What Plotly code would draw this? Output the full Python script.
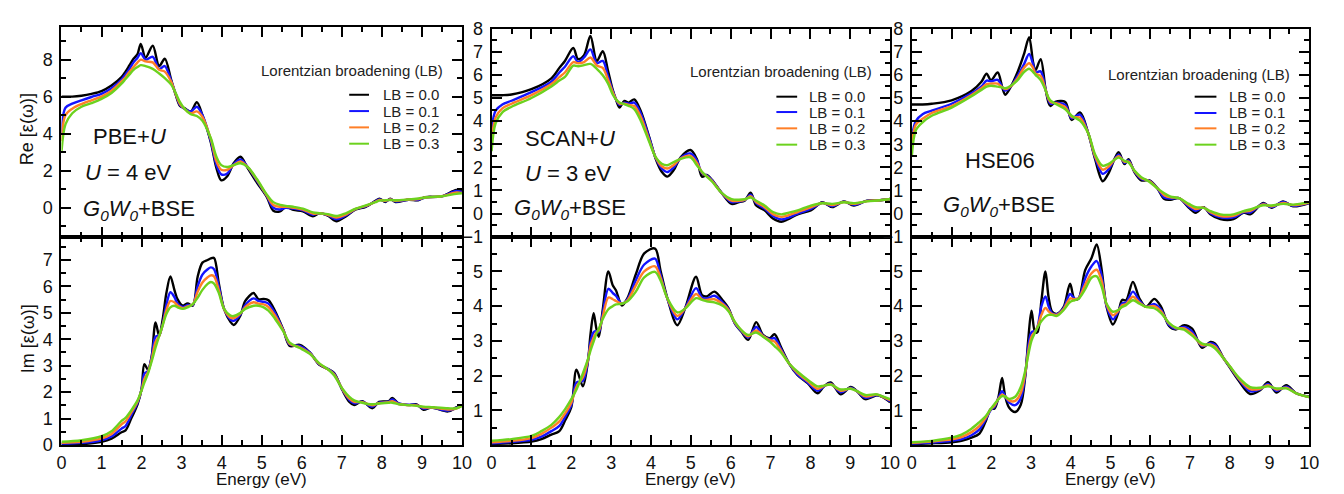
import plotly.graph_objects as go

W, H = 1344, 494

# ---------------- data ----------------
broadening = ["LB = 0.0", "LB = 0.1", "LB = 0.2", "LB = 0.3"]
line_colors = ["#000000", "#1414ff", "#ff7f27", "#6cd21e"]

# Re[eps] PBE+U
E_re_pbe = [0, 0.1, 0.27, 0.5, 0.75, 1.0, 1.25, 1.5, 1.6, 1.7, 1.8, 1.9, 1.98, 2.1, 2.28, 2.44, 2.58, 2.74, 2.86, 2.96,
            3.07, 3.23, 3.38, 3.52, 3.73, 3.87, 3.99, 4.14, 4.3, 4.47, 4.65, 4.88, 5.13, 5.29, 5.46, 5.6, 5.79, 6.03,
            6.28, 6.44, 6.65, 6.86, 7.1, 7.35, 7.6, 7.84, 7.94, 8.09, 8.21, 8.34, 8.67, 8.91, 9.08, 9.49, 9.86, 10]
re_pbe_00 = [6.0, 6.0, 6.0, 6.05, 6.15, 6.3, 6.6, 7.05, 7.35, 7.7, 8.05, 8.3, 8.85, 8.1, 8.75, 7.65, 8.05, 6.9, 6.05, 5.5,
             5.38, 5.2, 5.7, 5.0, 3.53, 2.14, 1.48, 1.7, 2.4, 2.75, 2.14, 1.36, 0.57, -0.16, -0.2, 0.05, -0.12, -0.2,
             -0.47, -0.3, -0.43, -0.73, -0.47, -0.09, 0.05, 0.37, 0.49, 0.31, 0.49, 0.31, 0.43, 0.4, 0.57, 0.61, 0.96, 0.89]
re_pbe_01 = [4.0, 5.4, 5.62, 5.8, 5.98, 6.15, 6.45, 6.92, 7.2, 7.5, 7.85, 8.1, 8.35, 8.0, 8.15, 7.5, 7.65, 6.85, 6.1, 5.55,
             5.35, 5.2, 5.45, 5.0, 3.6, 2.3, 1.8, 1.85, 2.35, 2.6, 2.2, 1.45, 0.62, 0.0, -0.1, 0.0, -0.05, -0.15,
             -0.38, -0.3, -0.4, -0.62, -0.42, -0.07, 0.07, 0.35, 0.45, 0.35, 0.46, 0.34, 0.43, 0.42, 0.55, 0.61, 0.9, 0.85]
re_pbe_02 = [3.6, 5.0, 5.35, 5.6, 5.8, 6.0, 6.32, 6.82, 7.05, 7.35, 7.6, 7.85, 8.0, 7.9, 7.85, 7.45, 7.35, 6.8, 6.1, 5.6,
             5.35, 5.1, 5.2, 4.9, 3.7, 2.5, 2.05, 2.05, 2.3, 2.5, 2.2, 1.5, 0.65, 0.15, 0.05, 0.05, 0.0, -0.1,
             -0.32, -0.3, -0.38, -0.53, -0.37, -0.06, 0.1, 0.32, 0.42, 0.37, 0.44, 0.37, 0.44, 0.46, 0.55, 0.62, 0.82, 0.8]
re_pbe_03 = [3.0, 4.5, 5.1, 5.45, 5.65, 5.88, 6.2, 6.7, 6.95, 7.2, 7.45, 7.6, 7.7, 7.65, 7.5, 7.25, 7.0, 6.65, 6.15, 5.7,
             5.35, 5.05, 4.95, 4.7, 3.75, 2.75, 2.3, 2.2, 2.3, 2.4, 2.2, 1.55, 0.7, 0.3, 0.15, 0.1, 0.05, -0.05,
             -0.25, -0.3, -0.35, -0.45, -0.3, -0.05, 0.12, 0.3, 0.38, 0.4, 0.42, 0.4, 0.45, 0.5, 0.55, 0.62, 0.75, 0.78]

# Re[eps] SCAN+U
E_re_scan = [0, 0.1, 0.27, 0.5, 1.0, 1.5, 1.7, 1.84, 2.05, 2.17, 2.32, 2.48, 2.64, 2.79, 2.92, 3.04, 3.12, 3.21, 3.33,
             3.44, 3.58, 3.74, 3.95, 4.12, 4.27, 4.41, 4.57, 4.74, 4.99, 5.15, 5.28, 5.4, 5.53, 5.77, 6.02, 6.19, 6.35,
             6.5, 6.64, 6.85, 7.06, 7.27, 7.43, 7.68, 8.01, 8.3, 8.55, 8.84, 9.09, 9.42, 9.75, 10]
re_scan_00 = [5.12, 5.12, 5.12, 5.15, 5.38, 5.85, 6.3, 6.6, 7.16, 6.68, 6.85, 7.68, 6.6, 7.02, 6.19, 5.35, 4.94, 4.59,
              4.87, 4.8, 4.94, 4.45, 3.34, 2.36, 1.81, 1.6, 1.88, 2.43, 2.75, 2.36, 1.6, 1.67, 1.46, 0.9, 0.42, 0.49,
              0.56, 0.9, 0.35, 0.14, -0.21, -0.35, -0.25, -0.03, 0.14, 0.49, 0.28, 0.53, 0.35, 0.56, 0.58, 0.63]
re_scan_01 = [3.6, 4.45, 4.72, 4.88, 5.25, 5.7, 6.1, 6.35, 6.8, 6.55, 6.75, 7.1, 6.5, 6.6, 5.95, 5.3, 4.95, 4.7, 4.8,
              4.75, 4.8, 4.35, 3.3, 2.4, 1.95, 1.8, 2.0, 2.4, 2.6, 2.3, 1.75, 1.65, 1.45, 0.9, 0.5, 0.52, 0.58, 0.82,
              0.45, 0.22, -0.1, -0.25, -0.18, 0.0, 0.2, 0.47, 0.32, 0.52, 0.38, 0.55, 0.58, 0.63]
re_scan_02 = [3.1, 4.15, 4.55, 4.75, 5.12, 5.6, 5.9, 6.1, 6.55, 6.5, 6.55, 6.75, 6.4, 6.3, 5.8, 5.25, 4.95, 4.75, 4.75,
              4.7, 4.65, 4.2, 3.2, 2.42, 2.05, 1.95, 2.1, 2.38, 2.5, 2.2, 1.78, 1.62, 1.42, 0.9, 0.56, 0.55, 0.6, 0.75,
              0.5, 0.28, -0.02, -0.14, -0.08, 0.07, 0.27, 0.46, 0.37, 0.5, 0.42, 0.54, 0.58, 0.63]
re_scan_03 = [2.7, 3.9, 4.38, 4.62, 5.0, 5.5, 5.75, 5.91, 6.4, 6.37, 6.42, 6.47, 6.26, 5.98, 5.63, 5.15, 4.94, 4.8, 4.73,
              4.66, 4.52, 4.03, 3.13, 2.43, 2.16, 2.09, 2.23, 2.36, 2.43, 2.09, 1.81, 1.6, 1.39, 0.9, 0.63, 0.6, 0.62,
              0.7, 0.56, 0.35, 0.07, -0.03, 0.03, 0.14, 0.35, 0.45, 0.42, 0.49, 0.45, 0.53, 0.58, 0.63]

# Re[eps] HSE06
E_re_hse = [0, 0.1, 0.27, 0.5, 1.0, 1.5, 1.75, 1.88, 1.99, 2.16, 2.28, 2.35, 2.49, 2.66, 2.82, 2.95, 3.05, 3.11, 3.24,
            3.36, 3.44, 3.49, 3.61, 3.86, 4.02, 4.23, 4.44, 4.61, 4.8, 4.94, 5.2, 5.35, 5.45, 5.6, 5.77, 5.98, 6.18,
            6.35, 6.51, 6.72, 6.97, 7.14, 7.34, 7.51, 7.76, 8.09, 8.34, 8.51, 8.84, 9.05, 9.34, 9.59, 10]
re_hse_00 = [4.72, 4.72, 4.72, 4.75, 4.9, 5.3, 5.7, 6.05, 5.77, 6.1, 5.42, 5.14, 5.49, 6.12, 6.89, 7.63, 6.54, 6.19, 6.68,
             5.42, 4.79, 4.65, 4.83, 4.83, 4.05, 4.37, 3.46, 2.35, 1.4, 1.72, 2.65, 2.14, 2.35, 1.79, 1.44, 1.44, 1.09,
             0.63, 0.6, 0.67, 0.25, 0.04, 0.28, -0.03, -0.24, -0.24, 0.04, -0.03, 0.46, 0.25, 0.53, 0.32, 0.46]
re_hse_01 = [3.3, 4.0, 4.3, 4.45, 4.75, 5.2, 5.5, 5.75, 5.72, 5.78, 5.45, 5.32, 5.5, 5.95, 6.45, 6.9, 6.45, 6.1, 6.15,
             5.4, 4.9, 4.75, 4.8, 4.7, 4.12, 4.28, 3.46, 2.42, 1.72, 1.9, 2.55, 2.2, 2.3, 1.82, 1.5, 1.42, 1.09, 0.7,
             0.65, 0.67, 0.3, 0.12, 0.27, 0.02, -0.16, -0.16, 0.06, 0.05, 0.43, 0.28, 0.5, 0.34, 0.47]
re_hse_02 = [2.9, 3.85, 4.1, 4.35, 4.65, 5.13, 5.42, 5.6, 5.62, 5.62, 5.45, 5.38, 5.5, 5.85, 6.3, 6.5, 6.3, 6.05, 5.95,
             5.38, 4.95, 4.82, 4.78, 4.6, 4.18, 4.15, 3.46, 2.48, 1.9, 2.02, 2.48, 2.24, 2.25, 1.84, 1.54, 1.4, 1.09,
             0.8, 0.7, 0.67, 0.36, 0.2, 0.26, 0.06, -0.1, -0.1, 0.09, 0.12, 0.4, 0.32, 0.46, 0.37, 0.48]
re_hse_03 = [2.49, 3.6, 3.95, 4.23, 4.58, 5.07, 5.35, 5.49, 5.53, 5.49, 5.45, 5.42, 5.53, 5.77, 6.12, 6.26, 6.12, 6.0,
             5.77, 5.35, 5.0, 4.89, 4.75, 4.51, 4.23, 4.02, 3.46, 2.56, 2.07, 2.14, 2.42, 2.28, 2.21, 1.86, 1.58, 1.37,
             1.09, 0.88, 0.74, 0.67, 0.42, 0.28, 0.25, 0.11, -0.03, -0.03, 0.11, 0.18, 0.36, 0.35, 0.42, 0.39, 0.5]

# Im[eps] PBE+U
E_im_pbe = [0, 0.5, 1.0, 1.25, 1.5, 1.6, 1.75, 1.9, 2.0, 2.07, 2.16, 2.25, 2.35, 2.44, 2.53, 2.62, 2.72, 2.82, 2.9, 3.03,
            3.15, 3.28, 3.4, 3.52, 3.65, 3.73, 3.81, 3.93, 4.06, 4.22, 4.3, 4.47, 4.59, 4.8, 4.92, 5.05, 5.17, 5.33,
            5.54, 5.7, 5.95, 6.2, 6.44, 6.69, 6.81, 7.02, 7.19, 7.31, 7.51, 7.76, 7.93, 8.17, 8.26, 8.42, 8.67, 8.87,
            9.04, 9.24, 9.65, 9.86, 10]
im_pbe_00 = [0.02, 0.03, 0.12, 0.24, 0.48, 0.55, 1.03, 1.54, 2.12, 3.06, 2.85, 3.33, 4.64, 4.12, 4.78, 5.75, 6.38, 5.87,
             5.51, 5.27, 5.36, 5.27, 6.36, 6.9, 7.0, 7.06, 7.08, 6.11, 5.15, 4.66, 4.54, 4.9, 5.45, 5.75, 5.51, 5.53,
             5.48, 5.08, 4.36, 3.75, 3.79, 3.51, 3.03, 2.85, 2.72, 2.06, 1.63, 1.51, 1.66, 1.39, 1.63, 1.66, 1.78, 1.57,
             1.51, 1.54, 1.33, 1.42, 1.27, 1.42, 1.51]
im_pbe_01 = [0.05, 0.08, 0.18, 0.32, 0.62, 0.72, 1.15, 1.6, 2.1, 2.7, 2.8, 3.3, 4.1, 4.15, 4.6, 5.3, 5.78, 5.6, 5.35,
             5.22, 5.3, 5.3, 6.0, 6.45, 6.65, 6.72, 6.65, 6.0, 5.15, 4.75, 4.7, 4.95, 5.3, 5.55, 5.45, 5.42, 5.35, 5.0,
             4.35, 3.8, 3.75, 3.5, 3.05, 2.85, 2.7, 2.08, 1.7, 1.58, 1.64, 1.45, 1.6, 1.64, 1.72, 1.57, 1.52, 1.52,
             1.38, 1.42, 1.3, 1.4, 1.5]
im_pbe_02 = [0.08, 0.12, 0.25, 0.42, 0.78, 0.9, 1.25, 1.65, 2.08, 2.5, 2.75, 3.22, 3.9, 4.12, 4.55, 5.1, 5.45, 5.4, 5.28,
             5.18, 5.25, 5.32, 5.8, 6.15, 6.35, 6.42, 6.38, 5.85, 5.15, 4.82, 4.8, 4.98, 5.22, 5.4, 5.35, 5.32, 5.22,
             4.9, 4.33, 3.83, 3.7, 3.47, 3.07, 2.83, 2.67, 2.1, 1.75, 1.63, 1.62, 1.5, 1.58, 1.62, 1.66, 1.55, 1.51,
             1.5, 1.42, 1.42, 1.34, 1.38, 1.49]
im_pbe_03 = [0.12, 0.18, 0.33, 0.52, 0.91, 1.03, 1.33, 1.69, 2.06, 2.36, 2.7, 3.15, 3.69, 4.12, 4.54, 4.96, 5.21, 5.27,
             5.21, 5.15, 5.21, 5.33, 5.57, 5.87, 6.1, 6.17, 6.11, 5.75, 5.15, 4.9, 4.88, 5.0, 5.15, 5.27, 5.27, 5.21,
             5.08, 4.78, 4.3, 3.87, 3.67, 3.45, 3.09, 2.82, 2.63, 2.12, 1.82, 1.69, 1.6, 1.54, 1.57, 1.6, 1.6, 1.54,
             1.51, 1.48, 1.45, 1.43, 1.39, 1.39, 1.48]

# Im[eps] SCAN+U
E_im_scan = [0, 0.5, 1.0, 1.25, 1.5, 1.7, 1.85, 2.0, 2.13, 2.29, 2.42, 2.48, 2.56, 2.63, 2.69, 2.79, 2.93, 3.04, 3.12,
             3.27, 3.41, 3.62, 3.83, 4.1, 4.24, 4.41, 4.66, 4.86, 5.13, 5.28, 5.4, 5.59, 5.82, 5.94, 6.11, 6.27, 6.44,
             6.64, 6.81, 6.98, 7.1, 7.27, 7.47, 7.68, 7.93, 8.18, 8.34, 8.51, 8.76, 9.01, 9.17, 9.38, 9.67, 9.83, 10]
im_scan_00 = [0.03, 0.05, 0.1, 0.17, 0.3, 0.4, 0.72, 1.09, 2.17, 1.69, 2.43, 3.17, 3.8, 3.35, 3.12, 3.91, 5.0, 4.6, 4.46,
              4.02, 4.23, 4.92, 5.52, 5.66, 5.02, 4.23, 3.45, 3.95, 4.85, 4.32, 4.28, 4.42, 4.14, 3.95, 3.49, 3.26, 3.03,
              3.54, 3.17, 3.08, 3.19, 2.8, 2.34, 2.01, 1.78, 1.49, 1.69, 1.8, 1.46, 1.67, 1.55, 1.32, 1.43, 1.37, 1.23]
im_scan_01 = [0.05, 0.09, 0.15, 0.24, 0.4, 0.55, 0.82, 1.15, 1.8, 1.85, 2.45, 2.95, 3.25, 3.28, 3.25, 3.8, 4.5, 4.38,
              4.3, 4.07, 4.2, 4.75, 5.2, 5.37, 4.9, 4.22, 3.62, 3.95, 4.52, 4.25, 4.22, 4.3, 4.08, 3.92, 3.5, 3.28, 3.1,
              3.4, 3.15, 3.05, 3.08, 2.75, 2.34, 2.03, 1.8, 1.56, 1.69, 1.77, 1.52, 1.65, 1.55, 1.36, 1.44, 1.38, 1.26]
im_scan_02 = [0.08, 0.12, 0.2, 0.32, 0.5, 0.68, 0.92, 1.22, 1.68, 1.95, 2.45, 2.85, 3.1, 3.25, 3.3, 3.7, 4.25, 4.2, 4.15,
              4.07, 4.17, 4.6, 5.0, 5.15, 4.82, 4.22, 3.72, 3.94, 4.35, 4.2, 4.18, 4.2, 4.04, 3.9, 3.52, 3.3, 3.13, 3.3,
              3.14, 3.02, 2.98, 2.7, 2.34, 2.07, 1.84, 1.62, 1.7, 1.75, 1.56, 1.63, 1.55, 1.4, 1.45, 1.38, 1.29]
im_scan_03 = [0.12, 0.17, 0.26, 0.4, 0.58, 0.81, 1.04, 1.32, 1.6, 2.06, 2.48, 2.71, 2.98, 3.21, 3.35, 3.63, 3.91, 4.0,
              4.05, 4.07, 4.14, 4.42, 4.83, 4.99, 4.74, 4.23, 3.82, 3.93, 4.23, 4.18, 4.14, 4.11, 4.0, 3.86, 3.54, 3.31,
              3.17, 3.24, 3.12, 2.98, 2.85, 2.66, 2.34, 2.11, 1.88, 1.69, 1.71, 1.74, 1.6, 1.62, 1.55, 1.44, 1.46, 1.39,
              1.32]

# Im[eps] HSE06
E_im_hse = [0, 0.5, 1.0, 1.25, 1.5, 1.7, 1.85, 1.98, 2.08, 2.18, 2.27, 2.35, 2.45, 2.6, 2.74, 2.85, 2.93, 3.01, 3.1,
            3.16, 3.26, 3.36, 3.44, 3.53, 3.65, 3.82, 3.98, 4.09, 4.19, 4.36, 4.52, 4.65, 4.77, 4.9, 5.06, 5.19, 5.29,
            5.39, 5.56, 5.73, 5.89, 6.1, 6.27, 6.47, 6.64, 6.85, 7.05, 7.3, 7.51, 7.63, 7.84, 8.0, 8.22, 8.51, 8.76,
            8.96, 9.17, 9.42, 9.67, 10]
im_hse_00 = [0.03, 0.05, 0.08, 0.12, 0.21, 0.33, 0.66, 1.03, 1.05, 1.39, 1.93, 1.39, 1.07, 0.95, 1.16, 1.95, 3.06, 3.87,
             3.25, 3.25, 4.17, 5.0, 4.26, 3.84, 3.78, 3.98, 4.65, 4.21, 4.21, 5.04, 5.39, 5.78, 5.09, 3.98, 3.47, 3.8,
             4.18, 4.17, 4.7, 4.21, 3.98, 4.21, 3.98, 3.43, 3.33, 3.45, 3.35, 2.8, 2.97, 2.92, 2.5, 2.23, 1.86, 1.47,
             1.58, 1.81, 1.51, 1.72, 1.49, 1.39]
im_hse_01 = [0.04, 0.07, 0.12, 0.17, 0.28, 0.45, 0.72, 1.0, 1.1, 1.35, 1.55, 1.4, 1.22, 1.15, 1.35, 2.0, 2.85, 3.25,
             3.28, 3.4, 4.0, 4.28, 4.0, 3.8, 3.77, 3.95, 4.35, 4.22, 4.22, 4.8, 5.15, 5.3, 4.9, 4.0, 3.62, 3.85, 4.08,
             4.1, 4.42, 4.15, 3.98, 4.06, 3.9, 3.46, 3.35, 3.4, 3.27, 2.85, 2.93, 2.88, 2.5, 2.25, 1.9, 1.55, 1.6,
             1.76, 1.56, 1.68, 1.49, 1.38]
im_hse_02 = [0.06, 0.1, 0.16, 0.23, 0.37, 0.55, 0.77, 1.02, 1.14, 1.33, 1.45, 1.4, 1.28, 1.27, 1.5, 2.05, 2.7, 3.12,
             3.27, 3.4, 3.75, 3.95, 3.85, 3.77, 3.75, 3.92, 4.22, 4.2, 4.22, 4.62, 4.95, 5.05, 4.75, 4.04, 3.74, 3.86,
             4.03, 4.06, 4.27, 4.1, 3.98, 4.0, 3.85, 3.5, 3.37, 3.36, 3.2, 2.88, 2.9, 2.83, 2.5, 2.26, 1.92, 1.61,
             1.62, 1.72, 1.6, 1.65, 1.49, 1.38]
im_hse_03 = [0.08, 0.12, 0.21, 0.3, 0.47, 0.66, 0.82, 1.03, 1.18, 1.32, 1.41, 1.39, 1.33, 1.39, 1.67, 2.13, 2.6, 3.01,
             3.24, 3.38, 3.57, 3.7, 3.75, 3.75, 3.72, 3.89, 4.12, 4.17, 4.21, 4.49, 4.82, 4.86, 4.58, 4.07, 3.84, 3.89,
             3.98, 4.03, 4.17, 4.07, 3.98, 3.94, 3.8, 3.52, 3.38, 3.32, 3.15, 2.92, 2.87, 2.78, 2.5, 2.27, 1.95, 1.67,
             1.65, 1.69, 1.63, 1.63, 1.49, 1.38]

method_labels = ["PBE+<i>U</i>", "SCAN+<i>U</i>", "HSE06"]
u_labels = ["<i>U</i> = 4 eV", "<i>U</i> = 3 eV", None]
gw_label = "<i>G<sub>0</sub>W<sub>0</sub></i>+BSE"
legend_title = "Lorentzian broadening (LB)"

panels = [
    (E_re_pbe, [re_pbe_00, re_pbe_01, re_pbe_02, re_pbe_03]),
    (E_re_scan, [re_scan_00, re_scan_01, re_scan_02, re_scan_03]),
    (E_re_hse, [re_hse_00, re_hse_01, re_hse_02, re_hse_03]),
    (E_im_pbe, [im_pbe_00, im_pbe_01, im_pbe_02, im_pbe_03]),
    (E_im_scan, [im_scan_00, im_scan_01, im_scan_02, im_scan_03]),
    (E_im_hse, [im_hse_00, im_hse_01, im_hse_02, im_hse_03]),
]

# ---------------- layout helpers ----------------
def fx(px):
    return px / W


def fy(py):
    return 1 - py / H


FONT = "Liberation Sans, Arial, Helvetica, sans-serif"
col_px = [(49, 454), (484, 887), (909, 1311)]
top_px = [(9, 228), (11, 228), (11, 228)]
bot_px = (228, 445)

fig = go.Figure()

for p, (E, series) in enumerate(panels):
    for i, ys in enumerate(series):
        if len(ys) != len(E):
            print("length mismatch", p, i, len(E), len(ys))
        fig.add_trace(go.Scatter(
            x=E, y=ys, mode="lines", name=broadening[i], showlegend=False,
            line=dict(color=line_colors[i], width=2.4, shape="spline", smoothing=0.9),
            xaxis="x" if p == 0 else f"x{p+1}", yaxis="y" if p == 0 else f"y{p+1}",
            hoverinfo="skip"))

tick_common = dict(
    ticks="inside", ticklen=10, tickwidth=2, tickcolor="black",
    showline=True, linewidth=2, linecolor="black", mirror="ticks",
    showgrid=False, zeroline=False,
    tickfont=dict(family=FONT, size=18, color="#111111"),
)


def minor(dt):
    return dict(ticks="inside", ticklen=5, tickwidth=2, tickcolor="black",
                tickmode="linear", tick0=0, dtick=dt, showgrid=False)


layout = {}
for p in range(6):
    row, col = divmod(p, 3)
    xk = "xaxis" if p == 0 else f"xaxis{p+1}"
    yk = "yaxis" if p == 0 else f"yaxis{p+1}"
    ya = "y" if p == 0 else f"y{p+1}"
    xa = "x" if p == 0 else f"x{p+1}"
    x0, x1 = col_px[col]
    if row == 0:
        yt, yb = top_px[col]
    else:
        yt, yb = bot_px
    layout[xk] = dict(domain=[fx(x0), fx(x1)], anchor=ya, range=[0, 10],
                      tickmode="linear", tick0=0, dtick=1, minor=minor(0.5),
                      showticklabels=(row == 1), **tick_common)
    ycfg = dict(domain=[fy(yb), fy(yt)], anchor=xa, ticklabelstandoff=3, **tick_common)
    if row == 0 and col == 0:
        ycfg.update(range=[-1.57, 9.78], tickmode="linear", tick0=0, dtick=2, minor=minor(1))
    elif row == 0:
        ycfg.update(range=[-1, 8], tickmode="linear", tick0=0, dtick=1, minor=minor(0.5))
    elif col == 0:
        ycfg.update(range=[0, 7.88], tickmode="linear", tick0=0, dtick=1, minor=minor(0.5))
    else:
        ycfg.update(range=[0, 6], tickmode="array", tickvals=[1, 2, 3, 4, 5], minor=minor(0.5))
    layout[yk] = ycfg

annotations = []
shapes = []


def note(text, xpx, ypx, font, xanchor="center", **kw):
    return dict(text=text, x=fx(xpx), y=fy(ypx), xref="paper", yref="paper",
                xanchor=xanchor, yanchor="middle", showarrow=False, font=font, **kw)


axis_font = dict(family=FONT, size=18, color="#111111")
title_font = dict(family=FONT, size=17, color="#111111")
# axis titles
annotations.append(note("Re [ε(ω)]", 14, 116, axis_font, textangle=-90))
annotations.append(note("Im [ε(ω)]", 16, 334, axis_font, textangle=-90))
for col in range(3):
    x0, x1 = col_px[col]
    annotations.append(note("Energy (eV)", (x0 + x1) / 2, 481, title_font))

# panel labels
big = dict(family=FONT, size=22, color="#111111")
label_pos = [
    [(118, 124), (117, 161), (127, 200)],
    [(563, 126), (562, 162), (563, 199)],
    [(998, 149), None, (997, 196)],
]
for col in range(3):
    m_pos, u_pos, g_pos = label_pos[col]
    annotations.append(note(method_labels[col], m_pos[0], m_pos[1], big))
    if u_labels[col] is not None:
        annotations.append(note(u_labels[col], u_pos[0], u_pos[1], big))
    annotations.append(note(gw_label, g_pos[0], g_pos[1], big))

# legends (one per top panel)
leg_cfg = [
    dict(title=(343, 55), line=(340, 360), text=372, rows=[80, 97, 114, 131]),
    dict(title=(777, 56), line=(772, 793), text=803, rows=[82, 98, 115, 132]),
    dict(title=(1199, 59), line=(1195, 1217), text=1228, rows=[82, 99, 115, 132]),
]
small = dict(family=FONT, size=15, color="#222222")
for cfg in leg_cfg:
    annotations.append(note(legend_title, cfg["title"][0], cfg["title"][1], small))
    for i, yy in enumerate(cfg["rows"]):
        shapes.append(dict(type="line", xref="paper", yref="paper", x0=fx(cfg["line"][0]), x1=fx(cfg["line"][1]),
                           y0=fy(yy), y1=fy(yy), line=dict(color=line_colors[i], width=2)))
        annotations.append(note(broadening[i], cfg["text"], yy, small, xanchor="left"))

fig.update_layout(
    width=W, height=H,
    margin=dict(l=0, r=0, t=0, b=0),
    paper_bgcolor="white", plot_bgcolor="white",
    showlegend=False,
    annotations=annotations, shapes=shapes,
    **layout,
)

fig.write_html("out.html")
